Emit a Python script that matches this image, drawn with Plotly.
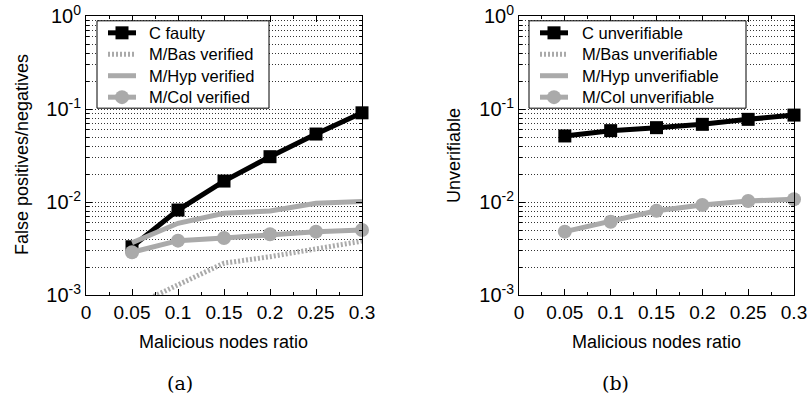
import plotly.graph_objects as go

# ---------------- data ----------------
ratios = [0.05, 0.10, 0.15, 0.20, 0.25, 0.30]

c_faulty = [0.0033, 0.0082, 0.0168, 0.0307, 0.0538, 0.091]
mbas_verified = [0.00075, 0.00128, 0.0022, 0.00258, 0.0031, 0.0038]
mhyp_verified = [0.00365, 0.0059, 0.00755, 0.0080, 0.0097, 0.0101]
mcol_verified = [0.00288, 0.00384, 0.0041, 0.0045, 0.0048, 0.0050]

c_unverif = [0.0513, 0.0585, 0.063, 0.0684, 0.0774, 0.086]
mbas_unverif = [0, 0, 0, 0, 0, 0]
mhyp_unverif = [0, 0, 0, 0, 0, 0]
mcol_unverif = [0.0048, 0.00614, 0.00805, 0.0093, 0.01026, 0.0107]

x_tickvals = [0, 0.05, 0.1, 0.15, 0.2, 0.25, 0.3]
x_ticktext = ["0", "0.05", "0.1", "0.15", "0.2", "0.25", "0.3"]
y_tickvals = [1e-3, 1e-2, 1e-1, 1]
y_ticktext = ["10<sup>-3</sup>", "10<sup>-2</sup>", "10<sup>-1</sup>", "10<sup>0</sup>"]
y_minor = [m * 10 ** e for e in (-3, -2, -1) for m in range(2, 10)]

left_names = ["C faulty", "M/Bas verified", "M/Hyp verified", "M/Col verified"]
right_names = ["C unverifiable", "M/Bas unverifiable", "M/Hyp unverifiable", "M/Col unverifiable"]

# ---------------- styles ----------------
W, H = 810, 400
FONT = "Liberation Sans, Arial, Helvetica, sans-serif"
GRAY = "#aaaaaa"

STYLES = [
    dict(color="black", width=5, dash="solid", symbol="square", msize=13),
    dict(color=GRAY, width=5, dash="2px,2px", symbol=None, msize=0),
    dict(color=GRAY, width=5, dash="solid", symbol=None, msize=0),
    dict(color=GRAY, width=5, dash="solid", symbol="circle", msize=14),
]

def px_x(p):
    return p / W

def px_y(p):
    return 1 - p / H

fig = go.Figure()

def add_panel(xa, ya, names, series):
    for name, vals, st in zip(names, series, STYLES):
        fig.add_trace(go.Scatter(
            x=ratios, y=vals, name=name,
            mode="lines+markers" if st["symbol"] else "lines",
            line=dict(color=st["color"], width=st["width"], dash=st["dash"]),
            marker=dict(symbol=st["symbol"] or "circle", size=st["msize"] or 6, color=st["color"]),
            xaxis=xa, yaxis=ya, cliponaxis=False if st["symbol"] else True,
            showlegend=False))

add_panel("x", "y", left_names, [c_faulty, mbas_verified, mhyp_verified, mcol_verified])
add_panel("x2", "y2", right_names, [c_unverif, mbas_unverif, mhyp_unverif, mcol_unverif])

xaxis_common = dict(
    range=[0, 0.3], tickmode="array", tickvals=x_tickvals, ticktext=x_ticktext,
    ticks="inside", ticklen=6, tickcolor="black", showgrid=False, zeroline=False,
    showline=True, linecolor="black", linewidth=1, mirror="ticks",
    minor=dict(dtick=0.025, tick0=0, ticks="inside", ticklen=3, tickcolor="black"),
    tickfont=dict(family=FONT, size=19, color="black"), automargin=False,
)
yaxis_common = dict(
    type="log", range=[-3, 0], tickmode="array", tickvals=y_tickvals, ticktext=y_ticktext,
    ticks="inside", ticklen=6, tickcolor="black",
    showgrid=True, gridcolor="#333333", gridwidth=1, griddash="1px,2px",
    zeroline=False, showline=True, linecolor="black", linewidth=1, mirror="ticks",
    minor=dict(tickmode="array", tickvals=y_minor, ticks="inside", ticklen=3, tickcolor="black",
               showgrid=True, gridcolor="#333333", gridwidth=1, griddash="1px,2px"),
    tickfont=dict(family=FONT, size=20, color="black"), automargin=False,
)

fig.update_layout(
    width=W, height=H,
    margin=dict(l=0, r=0, t=0, b=0),
    paper_bgcolor="white", plot_bgcolor="white",
    font=dict(family=FONT, size=18, color="black"),
    xaxis=dict(domain=[px_x(86), px_x(362)], anchor="y", **xaxis_common),
    yaxis=dict(domain=[px_y(295), px_y(16)], anchor="x", **yaxis_common),
    xaxis2=dict(domain=[px_x(519), px_x(794)], anchor="y2", **xaxis_common),
    yaxis2=dict(domain=[px_y(295), px_y(16)], anchor="x2", **yaxis_common),
    showlegend=False,
)

# ---------------- legend boxes (gnuplot-style key) ----------------
KEY_FONT = 16.5
KEY_SPACING = KEY_FONT * 1.3
KEY_MID = 65

def add_key(names, box_x0, box_x1, sym_x0, sym_x1, text_x):
    row_ys = [KEY_MID + (i - 1.5) * KEY_SPACING for i in range(len(names))]
    box_y0 = row_ys[0] - 12
    box_y1 = row_ys[-1] + 11
    fig.add_shape(type="rect", xref="paper", yref="paper",
                  x0=px_x(box_x0), x1=px_x(box_x1), y0=px_y(box_y1), y1=px_y(box_y0),
                  line=dict(color="black", width=1), fillcolor="white", layer="above")
    cx = (sym_x0 + sym_x1) / 2
    for st, ry in zip(STYLES, row_ys):
        fig.add_shape(type="line", xref="paper", yref="paper",
                      x0=px_x(sym_x0), x1=px_x(sym_x1), y0=px_y(ry), y1=px_y(ry),
                      line=dict(color=st["color"], width=st["width"], dash=st["dash"]),
                      layer="above")
        if st["symbol"]:
            r = st["msize"] / 2
            fig.add_shape(type="rect" if st["symbol"] == "square" else "circle",
                          xref="paper", yref="paper",
                          x0=px_x(cx - r), x1=px_x(cx + r), y0=px_y(ry + r), y1=px_y(ry - r),
                          line=dict(width=0), fillcolor=st["color"], layer="above")
    fig.add_annotation(text="<br>".join(names), x=px_x(text_x), y=px_y(KEY_MID),
                       xref="paper", yref="paper", xanchor="left", yanchor="middle",
                       align="left", showarrow=False,
                       font=dict(family=FONT, size=KEY_FONT, color="black"))

add_key(left_names, 97, 269, 108, 136, 147)
add_key(right_names, 529, 746, 540, 568, 580)

annots = [
    dict(text="Malicious nodes ratio", x=px_x(223), y=px_y(342), textangle=0, size=18, fam=FONT),
    dict(text="Malicious nodes ratio", x=px_x(656), y=px_y(342), textangle=0, size=18, fam=FONT),
    dict(text="False positives/negatives", x=px_x(22), y=px_y(155), textangle=-90, size=18, fam=FONT),
    dict(text="Unverifiable", x=px_x(454), y=px_y(155), textangle=-90, size=18, fam=FONT),
    dict(text="(a)", x=px_x(180), y=px_y(383), textangle=0, size=19, fam="DejaVu Serif, serif"),
    dict(text="(b)", x=px_x(615), y=px_y(383), textangle=0, size=19, fam="DejaVu Serif, serif"),
]
for a in annots:
    fig.add_annotation(text=a["text"], x=a["x"], y=a["y"], xref="paper", yref="paper",
                       xanchor="center", yanchor="middle", showarrow=False,
                       textangle=a["textangle"],
                       font=dict(family=a["fam"], size=a["size"], color="black"))

fig.write_html("out.html", config={"displayModeBar": False},
               post_script="document.body.style.margin='0';document.body.style.overflow='hidden';")
